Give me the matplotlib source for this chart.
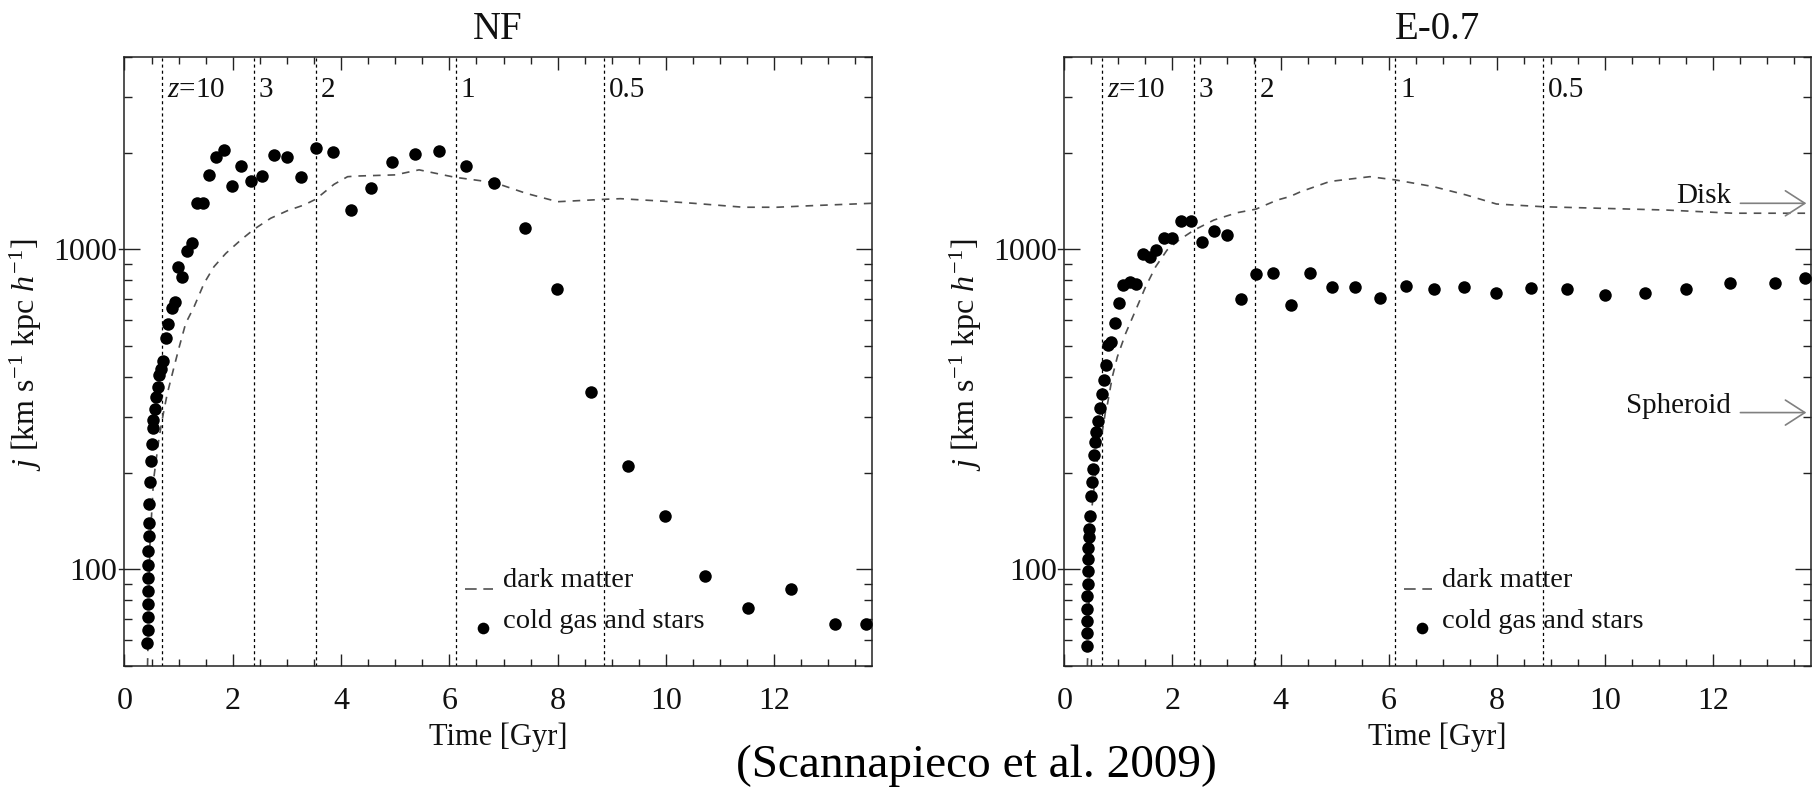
import matplotlib
matplotlib.use('Agg')
import matplotlib.pyplot as plt
from matplotlib.ticker import FixedLocator, LogLocator, NullFormatter, FuncFormatter, MultipleLocator
from matplotlib.transforms import blended_transform_factory

plt.rcParams['font.family'] = ['Liberation Serif', 'DejaVu Serif']
plt.rcParams['mathtext.fontset'] = 'custom'
plt.rcParams['mathtext.rm'] = 'Liberation Serif'
plt.rcParams['mathtext.it'] = 'Liberation Serif:italic'
plt.rcParams['lines.scale_dashes'] = False

# ---------------- data ----------------
panel_titles = ['NF', 'E-0.7']
redshift_labels = ['$z$=10', '3', '2', '1', '0.5']
redshift_times = [0.70, 2.39, 3.53, 6.12, 8.85]
y_major_ticks = [100, 1000]
x_major_step = 2
x_minor_step = 0.5

# NF: dark matter curve
nf_dm_t = [0.42, 0.47, 0.536, 0.64, 0.717, 0.79, 0.915, 1.01, 1.13, 1.284, 1.469, 1.653,
           1.87, 2.146, 2.39, 2.70, 3.01, 3.32, 3.53, 3.87, 4.12, 4.30, 5.0, 5.44, 6.10,
           6.83, 7.42, 8.00, 8.88, 9.16, 9.9, 10.51, 11.43, 12.05, 12.67, 13.8]
nf_dm_j = [45, 120, 190, 259, 307, 354, 429, 495, 587, 661, 783, 883,
           971, 1069, 1155, 1251, 1321, 1377, 1434, 1597, 1687, 1695, 1709, 1772, 1680,
           1617, 1496, 1409, 1434, 1440, 1416, 1393, 1354, 1354, 1369, 1393]
# NF: cold gas and stars
nf_cold_t = [0.422, 0.428, 0.428, 0.428, 0.428, 0.428, 0.434, 0.440, 0.446, 0.453, 0.459,
             0.471, 0.484, 0.502, 0.520, 0.533, 0.557, 0.588, 0.613, 0.644, 0.681, 0.717,
             0.761, 0.810, 0.871, 0.933, 0.995, 1.069, 1.155, 1.241, 1.334, 1.450, 1.567,
             1.697, 1.838, 1.986, 2.159, 2.337, 2.540, 2.763, 3.003, 3.261, 3.545, 3.852,
             4.185, 4.545, 4.94, 5.357, 5.817, 6.31, 6.83, 7.39, 7.99, 8.61, 9.29, 9.99,
             10.73, 11.51, 12.31, 13.13, 13.70]
nf_cold_j = [59.0, 64.8, 71.2, 77.9, 85.3, 94, 103.5, 114.5, 127, 140, 160,
             187, 218, 247, 276, 292, 318, 346, 371, 404, 424, 448,
             530, 586, 657, 685, 882, 821, 991, 1044, 1399, 1399, 1710,
             1941, 2046, 1581, 1823, 1640, 1699, 1977, 1949, 1683, 2075, 2014,
             1328, 1553, 1880, 1987, 2032, 1828, 1611, 1163, 752, 358, 210, 147,
             95.1, 76.0, 86.9, 67.4, 67.4]

# E-0.7: dark matter curve
e07_dm_t = [0.42, 0.50, 0.60, 0.68, 0.76, 0.80, 0.887, 0.98, 1.134, 1.32, 1.503, 1.69,
            1.90, 2.12, 2.40, 2.766, 3.197, 3.54, 3.936, 4.17, 4.37, 4.91, 5.65, 6.12,
            6.82, 7.43, 7.99, 8.85, 9.90, 11.13, 12.36, 13.8]
e07_dm_j = [45, 150, 215, 255, 310, 330, 399, 461, 546, 646, 764, 883,
            995, 1069, 1149, 1235, 1302, 1335, 1426, 1462, 1514, 1630, 1687, 1648,
            1571, 1479, 1386, 1359, 1344, 1327, 1297, 1297]
# E-0.7: cold gas and stars
e07_cold_t = [0.419, 0.426, 0.426, 0.426, 0.426, 0.432, 0.432, 0.438, 0.444, 0.450, 0.463,
              0.475, 0.493, 0.506, 0.524, 0.543, 0.561, 0.592, 0.617, 0.653, 0.690, 0.727,
              0.770, 0.807, 0.869, 0.937, 1.005, 1.078, 1.208, 1.331, 1.448, 1.577, 1.694,
              1.842, 1.990, 2.162, 2.335, 2.55, 2.772, 3.006, 3.265, 3.548, 3.856, 4.188,
              4.54, 4.952, 5.366, 5.828, 6.314, 6.83, 7.39, 7.99, 8.62, 9.29, 10.0, 10.74,
              11.5, 12.31, 13.14, 13.70]
e07_cold_j = [57.5, 63.1, 69.1, 75.2, 82.8, 90.0, 98.6, 108, 117, 126.6, 134,
              147, 170, 187, 206, 227, 250, 268, 291, 320, 353, 390,
              434, 502, 514, 587, 680, 773, 792, 778, 967, 944, 995,
              1082, 1082, 1229, 1229, 1052, 1143, 1106, 700, 837, 841, 670,
              841, 764, 764, 705, 768, 750, 764, 728, 755, 750, 719, 731,
              754, 783, 787, 811]

legend_labels = ['dark matter', 'cold gas and stars']
component_labels = ['Disk', 'Spheroid']
component_j = [1393, 309]

# ---------------- styling ----------------
ink = '#111111'
dm_color = '#505050'
W, H = 1818, 787
fig = plt.figure(figsize=(W / 100, H / 100), dpi=100)

ax_bottom = (787 - 665.7) / 787
ax_height = 609 / 787
axes_specs = [[124.5 / W, ax_bottom, 747.2 / W, ax_height],
              [1064.3 / W, ax_bottom, 746.4 / W, ax_height]]

panels = [
    (nf_dm_t, nf_dm_j, nf_cold_t, nf_cold_j),
    (e07_dm_t, e07_dm_j, e07_cold_t, e07_cold_j),
]

tick_fs = 23
for k, (spec, title, (dm_t, dm_j, c_t, c_j)) in enumerate(zip(axes_specs, panel_titles, panels)):
    ax = fig.add_axes(spec)
    ax.set_yscale('log')
    ax.set_xlim(0, 13.8)
    ax.set_ylim(50, 4000)

    # redshift markers
    for zt, zl in zip(redshift_times, redshift_labels):
        ax.axvline(zt, color='black', lw=0.9, linestyle=(0, (2.2, 2.2)), zorder=1)
        ax.annotate(zl, xy=(zt, 0.934), xycoords=('data', 'axes fraction'),
                    xytext=(3.5, 0), textcoords='offset points',
                    ha='left', va='baseline', fontsize=21, color=ink)

    ax.plot(dm_t, dm_j, color=dm_color, lw=1.2, linestyle=(0, (5.5, 5.0)), zorder=2)
    ax.plot(c_t, c_j, linestyle='none', marker='o', ms=9.0, color='black',
            markeredgewidth=0, zorder=3)

    # legend (manual)
    ax.plot([6.28, 6.80], [86.9, 86.9], color=dm_color, lw=1.2,
            linestyle=(0, (8.4, 4.8)), zorder=3)
    ax.plot([6.62], [65.8], linestyle='none', marker='o', ms=8.4, color='black',
            markeredgewidth=0, zorder=3)
    ax.text(6.99, 87.9, legend_labels[0], fontsize=20.5, ha='left', va='baseline', color=ink)
    ax.text(6.99, 65.8, legend_labels[1], fontsize=20.5, ha='left', va='baseline', color=ink)

    # axes cosmetics
    ax.set_title(title, fontsize=28, pad=13, color=ink)
    ax.set_xlabel('Time [Gyr]', fontsize=22, labelpad=5, color=ink)
    ax.set_ylabel(r'$j$ [km s$^{\mathregular{-1}}$ kpc $h^{\mathregular{-1}}$]', fontsize=23, color=ink)
    ax.yaxis.set_label_coords(-0.108, 0.51)

    ax.xaxis.set_major_locator(MultipleLocator(x_major_step))
    ax.xaxis.set_minor_locator(MultipleLocator(x_minor_step))
    ax.yaxis.set_major_locator(FixedLocator(y_major_ticks))
    ax.yaxis.set_minor_locator(LogLocator(base=10, subs=range(2, 10)))
    ax.yaxis.set_major_formatter(FuncFormatter(lambda v, p: f'{v:.0f}'))
    ax.yaxis.set_minor_formatter(NullFormatter())
    ax.xaxis.set_major_formatter(FuncFormatter(lambda v, p: f'{v:.0f}'))

    ax.tick_params(which='both', direction='in', top=True, right=True,
                   color='#222222', width=1.0, labelsize=tick_fs, labelcolor=ink)
    ax.tick_params(axis='x', which='major', length=9, pad=15)
    ax.tick_params(axis='x', which='minor', length=5)
    ax.tick_params(axis='y', which='major', length=11.2, pad=5)
    ax.tick_params(axis='y', which='minor', length=5.8)
    for s in ax.spines.values():
        s.set_linewidth(1.1)
        s.set_color('#222222')

    # small outward stubs of left major y ticks
    tr = blended_transform_factory(ax.transAxes, ax.transData)
    for yv in y_major_ticks:
        ax.plot([-0.008, 0], [yv, yv], transform=tr, clip_on=False, color='#222222', lw=1.0)

    if k == 1:
        for lab, jv in zip(component_labels, component_j):
            ax.annotate('', xy=(13.72, jv), xytext=(12.50, jv),
                        arrowprops=dict(arrowstyle='->,head_length=0.7,head_width=0.45',
                                        color='#808080', lw=1.2, mutation_scale=20,
                                        shrinkA=0, shrinkB=0),
                        annotation_clip=False)
            ax.text(12.33, jv, lab, fontsize=21, ha='right', va='baseline', color=ink)

fig.text(976 / W, (787 - 776.7) / 787, '(Scannapieco et al. 2009)', fontsize=34,
         ha='center', va='baseline', color='black')

fig.savefig('out.png', dpi=100)
